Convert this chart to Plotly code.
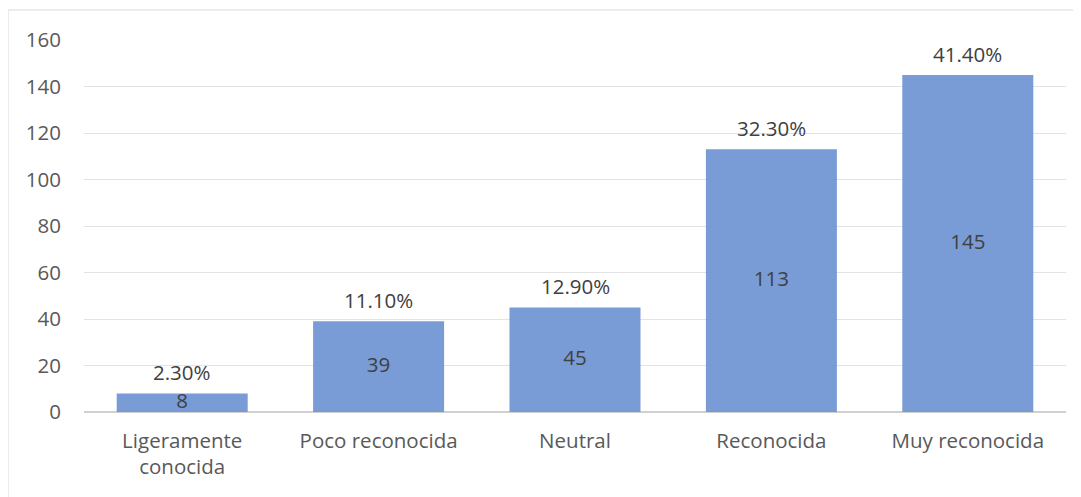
import plotly.graph_objects as go

categories = ["Ligeramente<br>conocida", "Poco reconocida", "Neutral", "Reconocida", "Muy reconocida"]
counts = [8, 39, 45, 113, 145]
percent_labels = ["2.30%", "11.10%", "12.90%", "32.30%", "41.40%"]
y_ticks = [0, 20, 40, 60, 80, 100, 120, 140, 160]

FONT = "Open Sans"
FS = 20.5
W, H = 1081, 497
OFF = 8  # page body margin offset
ml, mr, mt, mb = 84 - OFF, 23, 40 - OFF, 93
pw, ph = W - ml - mr, H - mt - mb

fig = go.Figure()
fig.add_trace(go.Bar(
    x=categories, y=counts,
    marker=dict(color="rgba(110,148,211,0.92)", line=dict(width=0)),
    width=0.667, hoverinfo="skip", showlegend=False,
))
fig.add_trace(go.Scatter(
    x=categories, y=[c / 2 for c in counts], mode="text",
    text=[str(c) for c in counts], textposition="middle center",
    textfont=dict(family=FONT, size=FS, color="#404040"),
    hoverinfo="skip", showlegend=False,
))
for cat, c, p in zip(categories, counts, percent_labels):
    fig.add_annotation(x=cat, y=c, text=p, showarrow=False, yanchor="bottom",
                       yshift=5, font=dict(family=FONT, size=FS, color="#404040"))

fig.add_shape(type="rect", xref="paper", yref="paper",
              x0=(8 - OFF - ml) / pw, x1=(1079 - OFF - ml) / pw,
              y0=(H - mb - 496) / ph, y1=(H - mb - (10 - OFF)) / ph,
              line=dict(color="#d9d9d9", width=1), fillcolor="rgba(0,0,0,0)", layer="below")

fig.update_layout(
    width=W, height=H,
    margin=dict(l=ml, r=mr, t=mt, b=mb),
    paper_bgcolor="white", plot_bgcolor="white",
    font=dict(family=FONT, size=FS, color="#595959"),
    bargap=0.333,
    xaxis=dict(showline=False, showgrid=False, ticks="", tickfont=dict(size=FS, color="#595959"),
               ticklabelstandoff=14),
    yaxis=dict(range=[0, 160], tickvals=y_ticks, showgrid=True, gridcolor="#e3e3e3",
               zeroline=True, zerolinecolor="#d0d0d0", zerolinewidth=1.5,
               showline=False, ticks="", tickfont=dict(size=FS, color="#595959"),
               ticklabelstandoff=22),
)

fig.write_html("out.html")
